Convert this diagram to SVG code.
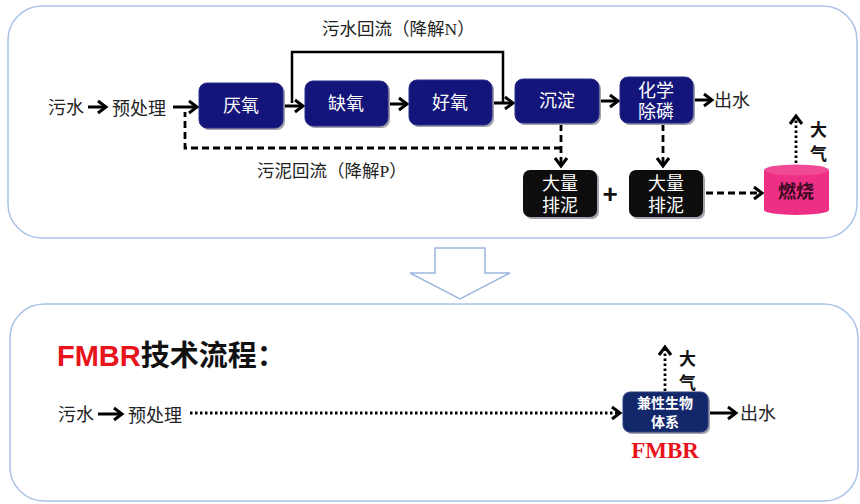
<svg xmlns="http://www.w3.org/2000/svg" width="860" height="504" viewBox="0 0 860 504">
<style>
.panel{fill:#fff;stroke:#a9c3e6;stroke-width:1.5}
.box{fill:#14157a;stroke:#2b2c8a;stroke-width:1}
.blk{fill:#0d0d0d}
.sh{fill:#a3a3ad}
.t{font-family:"Liberation Sans","Noto Sans CJK SC",sans-serif;font-size:18px;fill:#222}
.bt{font-family:"Liberation Sans","Noto Sans CJK SC",sans-serif;font-size:18px;fill:#fff;text-anchor:middle}
.lbl{font-family:"Liberation Serif","Noto Sans CJK SC",serif;font-size:17.5px;fill:#222}
.bold{font-family:"Liberation Sans","Noto Sans CJK SC",sans-serif;font-size:17px;font-weight:bold;fill:#111}
.c{fill:none;stroke:#000;stroke-width:3}
.cl{fill:none;stroke:#000;stroke-width:2.5}
.dash{fill:none;stroke:#000;stroke-width:2.8;stroke-dasharray:7 4}
.dot{fill:none;stroke:#000;stroke-width:2.8;stroke-dasharray:2.5 2.5}
</style>
<defs>
<marker id="ah" markerUnits="userSpaceOnUse" markerWidth="16" markerHeight="16" refX="11" refY="8" orient="auto">
<path d="M3,2 L11,8 L3,14" fill="none" stroke="#000" stroke-width="3"/>
</marker>
</defs>
<rect class="panel" x="8" y="6" width="849" height="232" rx="34"/>
<rect class="panel" x="10" y="304" width="848" height="197" rx="34"/>
<polygon points="435,248 485,248 485,273 510,273 460,299 410,273 435,273" fill="#fff" stroke="#9db7df" stroke-width="1.5"/>

<g id="connectors">
<line class="c" x1="88" y1="107" x2="106" y2="107" marker-end="url(#ah)"/>
<line class="c" x1="173" y1="107" x2="197" y2="107" marker-end="url(#ah)"/>
<line class="c" x1="283" y1="106" x2="303" y2="106" marker-end="url(#ah)"/>
<line class="c" x1="388" y1="104" x2="407" y2="104" marker-end="url(#ah)"/>
<line class="c" x1="492" y1="103" x2="513" y2="103" marker-end="url(#ah)"/>
<line class="c" x1="599" y1="101" x2="618" y2="101" marker-end="url(#ah)"/>
<line class="c" x1="693" y1="100" x2="712" y2="100" marker-end="url(#ah)"/>
<polyline class="cl" points="503,103 503,52 292,52 292,103"/>
<polyline class="dash" points="561,148 185,148 185,112"/>
<line class="dash" x1="561" y1="124" x2="561" y2="166" marker-end="url(#ah)"/>
<line class="dash" x1="663" y1="124" x2="663" y2="166" marker-end="url(#ah)"/>
<line class="dash" x1="706" y1="193" x2="762" y2="193" marker-end="url(#ah)"/>
<line class="dot" x1="796" y1="163" x2="796" y2="116" marker-end="url(#ah)"/>
<line class="c" x1="98" y1="414" x2="122" y2="414" marker-end="url(#ah)"/>
<line class="dot" x1="190" y1="413" x2="620" y2="413" marker-end="url(#ah)"/>
<line class="c" x1="710" y1="413" x2="736" y2="413" marker-end="url(#ah)"/>
<line class="dot" x1="665" y1="391" x2="665" y2="347" marker-end="url(#ah)"/>
</g>

<g id="input-top"><text class="t" x="48" y="114">污水</text><text class="t" x="112" y="115">预处理</text></g>
<g id="label-n"><text class="lbl" x="322" y="35">污水回流（降解N）</text></g>
<g id="label-p"><text class="lbl" x="257" y="177">污泥回流（降解P）</text></g>

<g id="yanyang"><rect class="sh" x="201" y="85" width="84" height="45" rx="8"/><rect class="box" x="199" y="83" width="84" height="45" rx="8"/><text class="bt" x="241" y="112">厌氧</text></g>
<g id="queyang"><rect class="sh" x="307" y="83" width="83" height="45" rx="8"/><rect class="box" x="305" y="81" width="83" height="45" rx="8"/><text class="bt" x="346" y="110">缺氧</text></g>
<g id="haoyang"><rect class="sh" x="411" y="82" width="83" height="45" rx="8"/><rect class="box" x="409" y="80" width="83" height="45" rx="8"/><text class="bt" x="450" y="109">好氧</text></g>
<g id="chendian"><rect class="sh" x="517" y="81" width="84" height="44" rx="8"/><rect class="box" x="515" y="79" width="84" height="44" rx="8"/><text class="bt" x="557" y="107">沉淀</text></g>
<g id="huaxue"><rect class="sh" x="622" y="79" width="73" height="46" rx="8"/><rect class="box" x="620" y="77" width="73" height="46" rx="8"/><text class="bt" x="656" y="97">化学</text><text class="bt" x="656" y="118">除磷</text></g>
<g id="out-top"><text class="t" x="714" y="107">出水</text></g>
<g id="paini1"><rect class="sh" x="525" y="172" width="74" height="47" rx="7"/><rect class="blk" x="523" y="170" width="74" height="47" rx="7"/><text class="bt" x="560" y="190">大量</text><text class="bt" x="560" y="212">排泥</text></g>
<g id="plus"><text x="610" y="203" font-family="Liberation Sans,sans-serif" font-size="26" font-weight="bold" fill="#111" text-anchor="middle">+</text></g>
<g id="paini2"><rect class="sh" x="631" y="172" width="74" height="47" rx="7"/><rect class="blk" x="629" y="170" width="74" height="47" rx="7"/><text class="bt" x="666" y="190">大量</text><text class="bt" x="666" y="212">排泥</text></g>
<g id="ranshao"><rect x="764" y="170" width="65" height="40" fill="#ee2f86"/><ellipse cx="796.5" cy="210" rx="32.5" ry="5" fill="#ee2f86"/><ellipse cx="796.5" cy="170" rx="32.5" ry="5.5" fill="#f04a95"/><text x="796" y="198" font-family="Liberation Sans,Noto Sans CJK SC,sans-serif" font-size="18" font-weight="bold" fill="#3a0a22" text-anchor="middle">燃烧</text></g>
<g id="air-top"><text class="bold" x="810" y="136">大</text><text class="bold" x="810" y="160">气</text></g>

<g id="title"><text x="57" y="366" font-family="Liberation Sans,Noto Sans CJK SC,sans-serif" font-size="29" font-weight="bold" fill="#111"><tspan fill="#e8141c">FMBR</tspan>技术流程：</text></g>
<g id="input-bottom"><text class="t" x="58" y="421">污水</text><text class="t" x="128" y="422">预处理</text></g>
<g id="fmbr"><rect class="sh" x="625" y="394" width="85" height="40" rx="7"/><rect x="623" y="392" width="85" height="40" rx="7" fill="#13286b" stroke="#2a3c7a"/><text x="665" y="408" font-family="Liberation Sans,Noto Sans CJK SC,sans-serif" font-size="14" font-weight="bold" fill="#fff" text-anchor="middle">兼性生物</text><text x="665" y="427" font-family="Liberation Sans,Noto Sans CJK SC,sans-serif" font-size="14" font-weight="bold" fill="#fff" text-anchor="middle">体系</text><text x="665" y="458" font-family="Liberation Serif,serif" font-size="23" font-weight="bold" fill="#e8141c" text-anchor="middle">FMBR</text></g>
<g id="air-bottom"><text class="bold" x="679" y="365">大</text><text class="bold" x="679" y="389">气</text></g>
<g id="out-bottom"><text class="t" x="740" y="420">出水</text></g>
</svg>
